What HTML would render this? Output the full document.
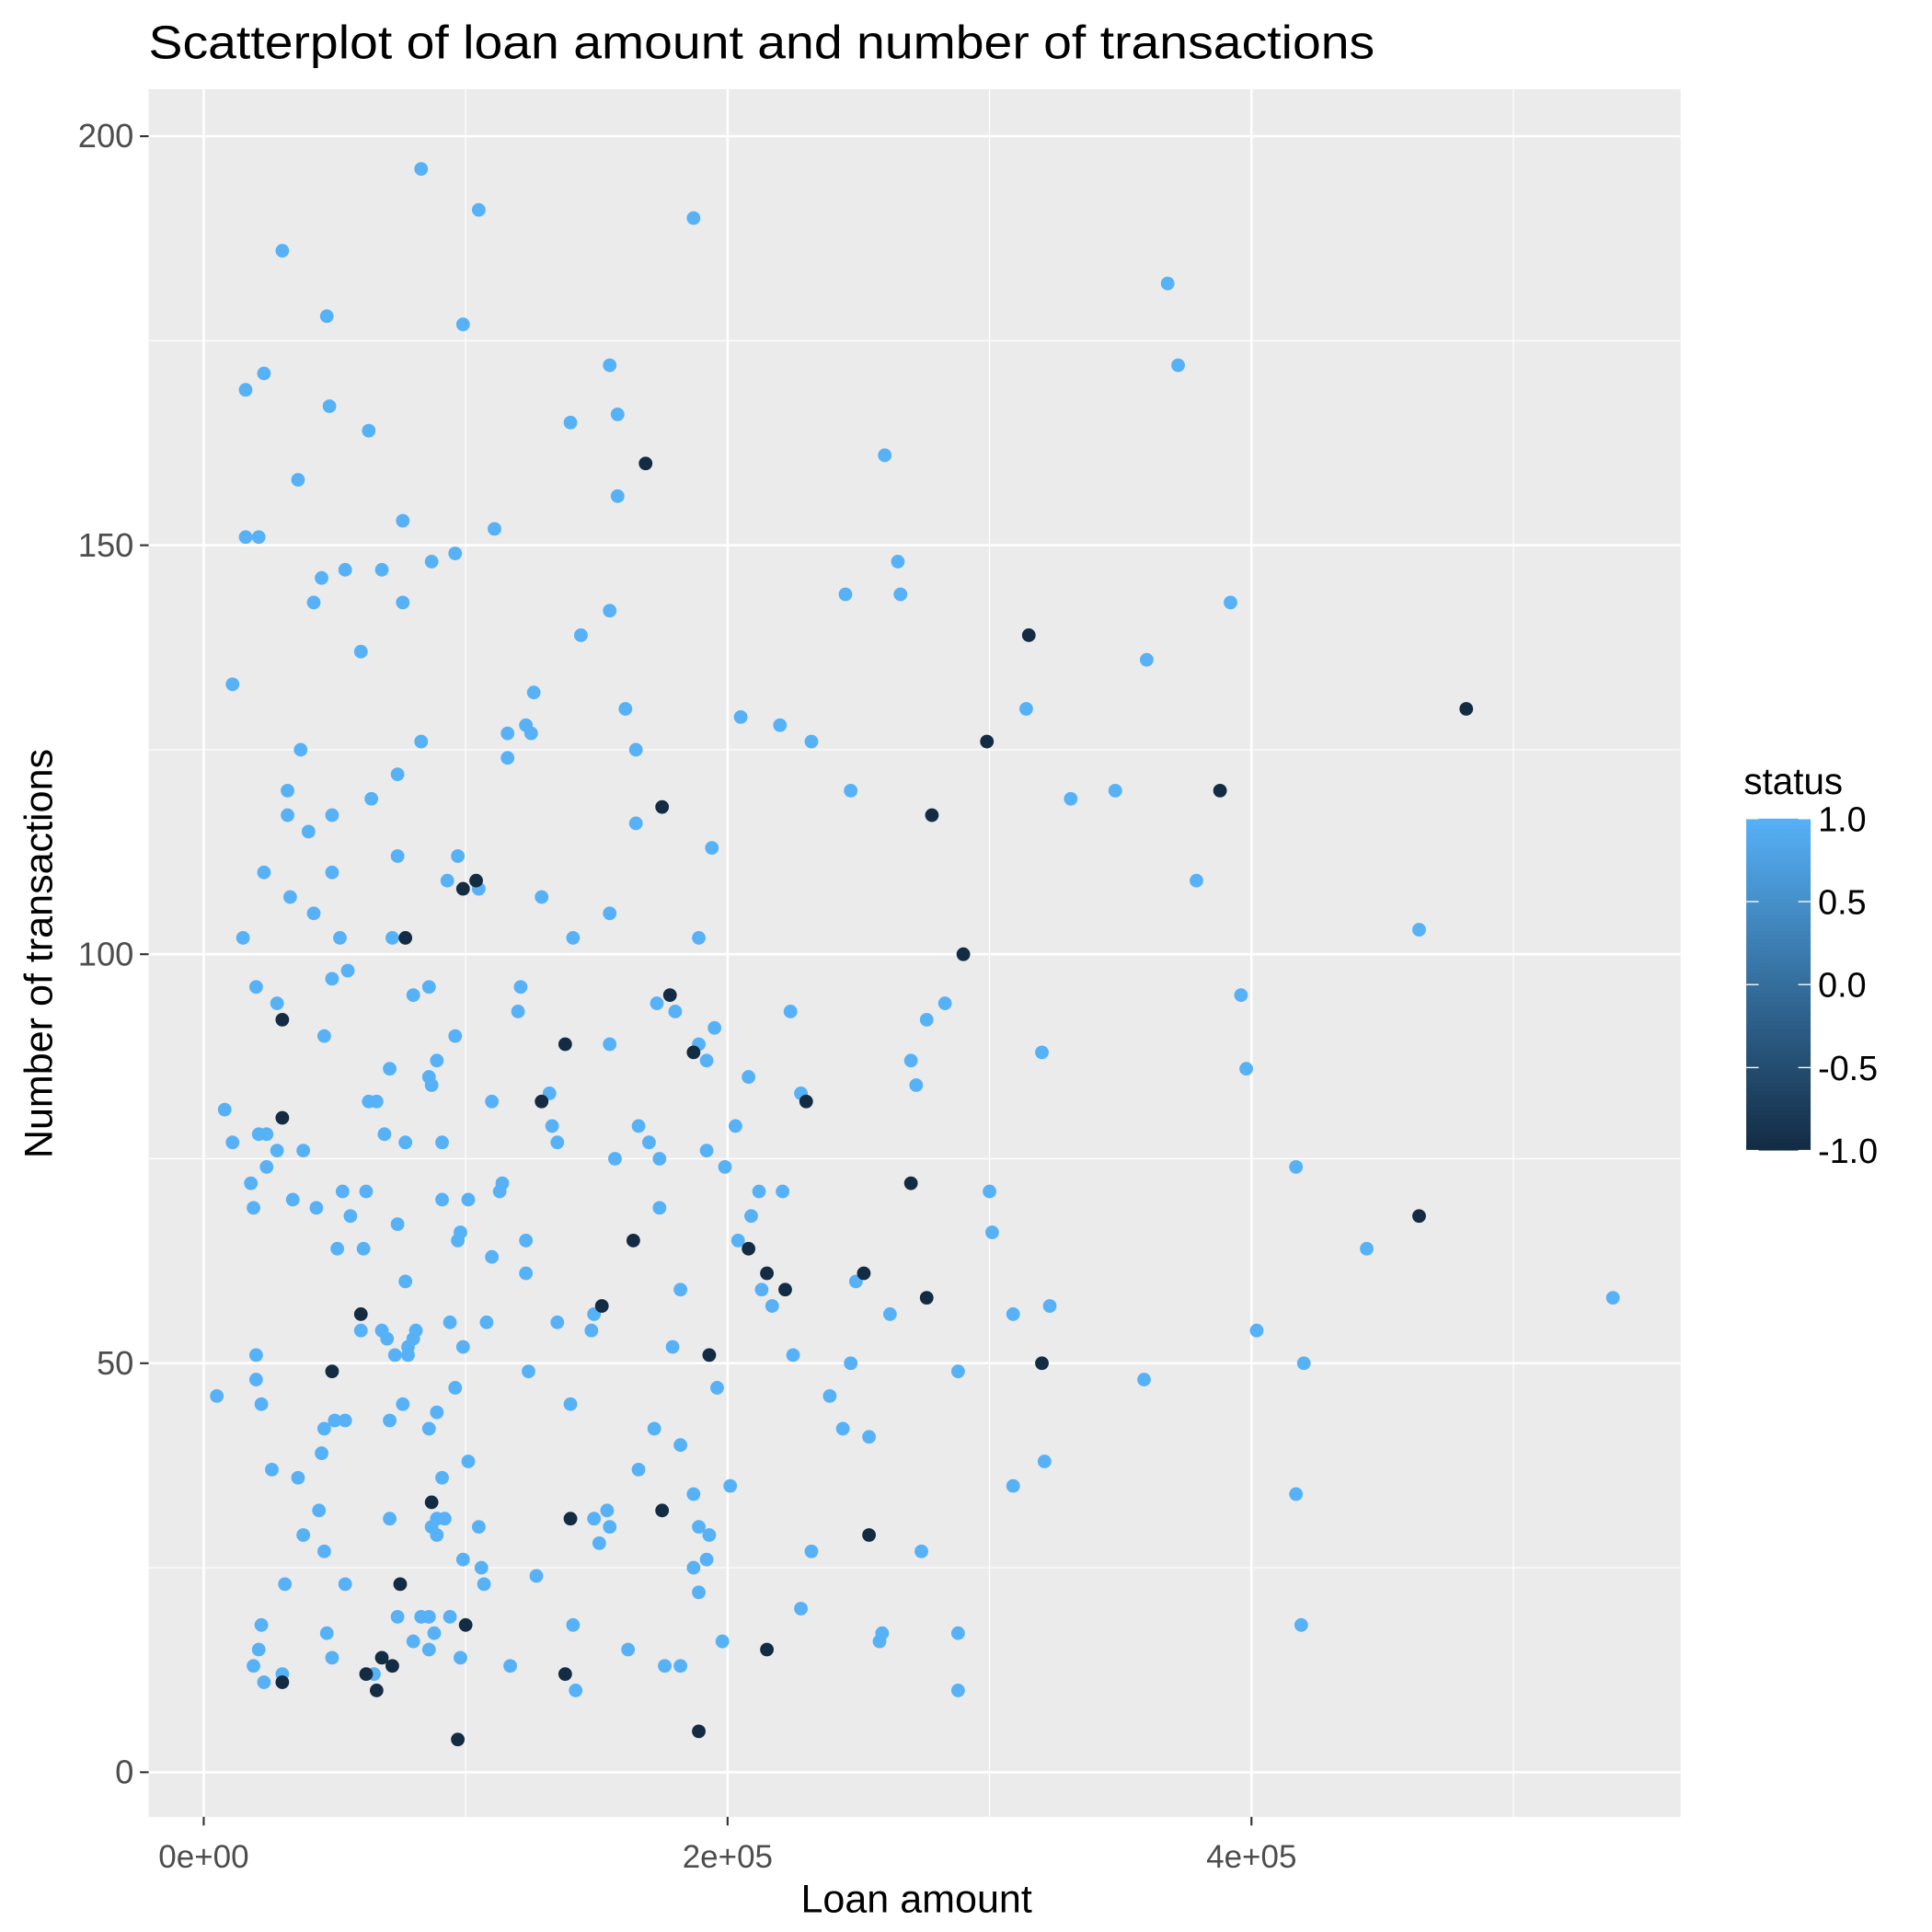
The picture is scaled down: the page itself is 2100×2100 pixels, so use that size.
<!DOCTYPE html>
<html><head><meta charset="utf-8"><style>
html,body{margin:0;padding:0;background:#fff}
svg{display:block}
text{font-family:"Liberation Sans",Arial,sans-serif}
</style></head><body>
<svg id="chart" width="2100" height="2100" viewBox="0 0 1560 1560" xmlns="http://www.w3.org/2000/svg">
<defs><linearGradient id="cg" x1="0" y1="1" x2="0" y2="0"><stop offset="0" stop-color="#132B43"/><stop offset="1" stop-color="#56B1F7"/></linearGradient></defs>
<text x="120" y="47" font-size="38" textLength="990" lengthAdjust="spacingAndGlyphs" fill="#000">Scatterplot of loan amount and number of transactions</text>
<rect x="120" y="72" width="1237" height="1395" fill="#EBEBEB"/>
<g id="grid"></g>
<g id="axes"></g>
<g id="pts"></g>
<text x="740" y="1544" font-size="32" text-anchor="middle" fill="#000">Loan amount</text>
<text transform="translate(42,770) rotate(-90)" font-size="32" text-anchor="middle" fill="#000">Number of transactions</text>
<g>
<text x="1408" y="641" font-size="30" fill="#000">status</text>
<rect x="1410" y="661" width="52" height="268" fill="url(#cg)"/>
<g id="leg"></g>
</g>
</svg>
<script>
const xTicks = [0, 200000, 400000];
const xTickLabels = ["0e+00", "2e+05", "4e+05"];
const xMinor = [100000, 300000, 500000];
const yTicks = [0, 50, 100, 150, 200];
const yMinor = [25, 75, 125, 175];
const legendTicks = [1.0, 0.5, 0.0, -0.5, -1.0];
const legendLabels = ["1.0", "0.5", "0.0", "-0.5", "-1.0"];
// [loan amount (thousands), transactions]
const lightPts = [[83,196],[105,191],[187,190],[30,186],[368,182],[47,178],[99,177],[23,171],[155,172],[372,172],[16,169],[48,167],[158,166],[140,165],[63,164],[260,161],[36,158],[158,156],[76,153],[111,152],[16,151],[21,151],[96,149],[87,148],[265,148],[54,147],[68,147],[45,146],[245,144],[266,144],[42,143],[76,143],[392,143],[155,142],[144,139],[60,137],[360,136],[11,133],[126,132],[161,130],[314,130],[205,129],[123,128],[220,128],[116,127],[125,127],[83,126],[232,126],[37,125],[165,125],[116,124],[74,122],[32,120],[247,120],[348,120],[64,119],[331,119],[32,117],[49,117],[165,116],[40,115],[194,113],[74,112],[97,112],[23,110],[49,110],[33,107],[129,107],[93,109],[105,108],[379,109],[42,105],[155,105],[15,102],[52,102],[72,102],[141,102],[189,102],[464,103],[55,98],[49,97],[20,96],[86,96],[121,96],[80,95],[396,95],[28,94],[173,94],[283,94],[120,93],[180,93],[224,93],[276,92],[195,91],[46,90],[96,90],[155,89],[189,89],[320,88],[89,87],[192,87],[270,87],[398,86],[71,86],[86,85],[208,85],[87,84],[272,84],[132,83],[228,83],[63,82],[66,82],[110,82],[8,81],[203,79],[133,79],[166,79],[21,78],[24,78],[69,78],[11,77],[77,77],[91,77],[135,77],[170,77],[28,76],[38,76],[157,75],[174,75],[192,76],[199,74],[417,74],[24,74],[18,72],[114,72],[113,71],[53,71],[62,71],[212,71],[221,71],[300,71],[34,70],[91,70],[101,70],[19,69],[43,69],[174,69],[209,68],[56,68],[74,67],[98,66],[301,66],[204,65],[97,65],[123,65],[51,64],[61,64],[444,64],[110,63],[123,61],[77,60],[249,60],[182,59],[213,59],[217,57],[323,57],[538,58],[262,56],[309,56],[149,56],[94,55],[108,55],[135,55],[60,54],[68,54],[81,54],[148,54],[402,54],[70,53],[80,53],[78,52],[99,52],[179,52],[78,51],[20,51],[73,51],[225,51],[247,50],[420,50],[288,49],[124,49],[20,48],[359,48],[196,47],[96,47],[5,46],[239,46],[22,45],[76,45],[140,45],[89,44],[50,43],[54,43],[71,43],[46,42],[86,42],[172,42],[244,42],[254,41],[182,40],[45,39],[101,38],[321,38],[26,37],[166,37],[36,36],[91,36],[201,35],[309,35],[187,34],[417,34],[44,32],[154,32],[89,31],[92,31],[71,31],[149,31],[87,30],[155,30],[105,30],[189,30],[89,29],[193,29],[38,29],[151,28],[46,27],[232,27],[274,27],[99,26],[192,26],[106,25],[187,25],[127,24],[31,23],[54,23],[107,23],[189,22],[228,20],[74,19],[83,19],[86,19],[94,19],[141,18],[22,18],[419,18],[80,16],[47,17],[88,17],[259,17],[288,17],[258,16],[198,16],[21,15],[86,15],[162,15],[49,14],[98,14],[19,13],[117,13],[176,13],[182,13],[30,12],[65,12],[23,11],[142,10],[288,10]];
const darkPts = [[168.7,160],[315,139],[482,130],[299,126],[388,120],[175,118],[278,117],[99,108],[104,109],[77,102],[290,100],[178,95],[30,92],[138,89],[187,88],[230,82],[129,82],[30,80],[270,72],[464,68],[164,65],[208,64],[215,61],[252,61],[222,59],[276,58],[152,57],[60,56],[320,50],[193,51],[49,49],[87,33],[175,32],[140,31],[254,29],[75,23],[100,18],[215,15],[68,14],[62,12],[72,13],[138,12],[30,11],[66,10],[97,4],[189,5]];

const NS = "http://www.w3.org/2000/svg";
const X0 = 164.5, XPER = (1010.5 - 164.5) / 400000;
const Y0 = 1431, YPER = (1431 - 110) / 200;
function sx(v){ return X0 + v * XPER; }
function sy(v){ return Y0 - v * YPER; }
function mk(tag, attrs, parent){ const e = document.createElementNS(NS, tag); for (const k in attrs) e.setAttribute(k, attrs[k]); parent.appendChild(e); return e; }
const grid = document.getElementById('grid');
const axes = document.getElementById('axes');
const pts = document.getElementById('pts');
const leg = document.getElementById('leg');
const L = 120, R = 1357, T = 72, B = 1467;
yMinor.forEach(v => { const e = mk('line', {x1:L, x2:R, y1:sy(v), y2:sy(v), stroke:'#fff', 'stroke-width':0.9}, grid);
  
   });
xMinor.forEach(v => { const e = mk('line', {x1:sx(v), x2:sx(v), y1:T, y2:B, stroke:'#fff', 'stroke-width':0.9}, grid);
  
   });
yTicks.forEach(v => {
  const e = mk('line', {x1:L, x2:R, y1:sy(v), y2:sy(v), stroke:'#fff', 'stroke-width':1.9}, grid);
  
  
  const t = mk('line', {x1:L-7, x2:L, y1:sy(v), y2:sy(v), stroke:'#333', 'stroke-width':1.6}, axes);
  
  
  const lb = mk('text', {x:L-12, y:sy(v)+9, 'font-size':27, 'text-anchor':'end', fill:'#4D4D4D'}, axes);
  lb.textContent = String(v);
  
  
});
xTicks.forEach((v, i) => {
  const e = mk('line', {x1:sx(v), x2:sx(v), y1:T, y2:B, stroke:'#fff', 'stroke-width':1.9}, grid);
  
  
  const t = mk('line', {x1:sx(v), x2:sx(v), y1:B, y2:B+7, stroke:'#333', 'stroke-width':1.6}, axes);
  
  
  const lb = mk('text', {x:sx(v), y:B+41, 'font-size':26, 'text-anchor':'middle', fill:'#4D4D4D'}, axes);
  lb.textContent = xTickLabels[i];
  
  
});
lightPts.forEach(p => {
  const c = mk('circle', {cx:sx(p[0]*1000), cy:sy(p[1]), r:5.5, fill:'#56B1F7'}, pts);
  
  
});
darkPts.forEach(p => {
  const c = mk('circle', {cx:sx(p[0]*1000), cy:sy(p[1]), r:5.5, fill:'#132B43'}, pts);
  
  
});
legendTicks.forEach((v, i) => {
  const y = 661 + (1 - v) / 2 * 268;
  const a = mk('line', {x1:1410, x2:1420, y1:y, y2:y, stroke:'#fff', 'stroke-width':1}, leg);
  
  
  const b = mk('line', {x1:1452, x2:1462, y1:y, y2:y, stroke:'#fff', 'stroke-width':1}, leg);
  
  
  const lb = mk('text', {x:1468, y:y+10, 'font-size':28, fill:'#000'}, leg);
  lb.textContent = legendLabels[i];
  
  
});
</script>
</body></html>
